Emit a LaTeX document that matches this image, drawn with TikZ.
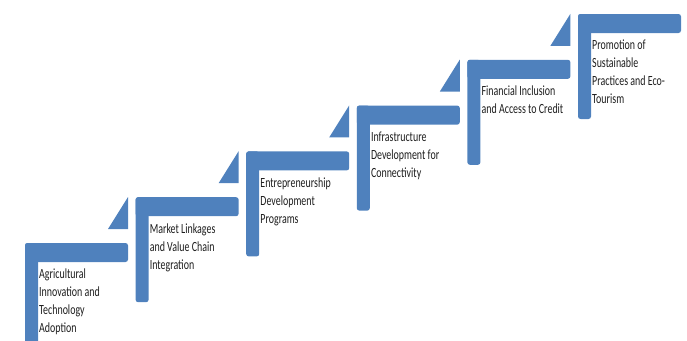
\documentclass[tikz,border=0pt]{standalone}
\usepackage{fontspec}
\setmainfont{Carlito}
\definecolor{stepblue}{RGB}{79,129,189}
\definecolor{steptxt}{RGB}{30,30,30}
\tikzset{
  stepbar/.style={fill=stepblue, draw=none, rounded corners=2.5pt},
  steptri/.style={fill=stepblue, draw=none},
  steplabel/.style={anchor=north west, inner sep=0pt, text=steptxt, font=\fontsize{14}{18}\selectfont},
}
\newcommand{\steptext}[1]{\scalebox{0.71}[1]{\begin{tabular}{@{}l@{}}#1\end{tabular}}}
\begin{document}
\begin{tikzpicture}[x=1pt,y=-1pt]
\useasboundingbox (0,0) rectangle (687,340);
\clip (0,0) rectangle (687,340);
\foreach \i in {0,...,5} {
  \pgfmathsetmacro\L{25+110.6*\i}
  \pgfmathsetmacro\T{243-45.8*\i}
  \fill[stepbar] (\L,\T) rectangle ++(103,19);
  \fill[stepbar] (\L,\T) rectangle ++(13,105);
  \ifnum\i<5
    \fill[steptri] (\L+83,\T-14) -- (\L+103,\T-14) -- (\L+103,\T-46) -- cycle;
  \fi
}
\node[steplabel] (s1) at (39,266) {\steptext{Agricultural\\Innovation and\\Technology\\Adoption}};
\node[steplabel] (s2) at (149.6,220.2) {\steptext{Market Linkages\\and Value Chain\\Integration}};
\node[steplabel] (s3) at (260.2,174.4) {\steptext{Entrepreneurship\\Development\\Programs}};
\node[steplabel] (s4) at (370.8,128.6) {\steptext{Infrastructure\\Development for\\Connectivity}};
\node[steplabel] (s5) at (481.4,82.8) {\steptext{Financial Inclusion\\and Access to Credit}};
\node[steplabel] (s6) at (592,37) {\steptext{Promotion of\\Sustainable\\Practices and Eco-\\Tourism}};
\end{tikzpicture}
\end{document}
